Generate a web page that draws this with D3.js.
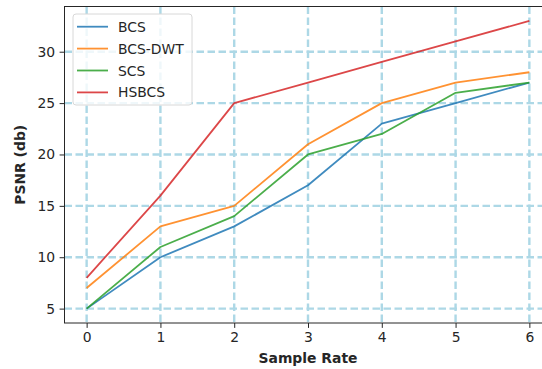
<!DOCTYPE html>
<html>
<head>
<meta charset="utf-8">
<script src="https://cdn.jsdelivr.net/npm/d3@7"></script>
<style>
  body { margin: 0; background: #fff; }
  svg { display: block; font-family: "DejaVu Sans", sans-serif; }
</style>
</head>
<body>
<svg width="542" height="369"></svg>
<script>
"use strict"

var rates = [0, 1, 2, 3, 4, 5, 6]
var bcs = [5, 10, 13, 17, 23, 25, 27]
var bcsDwt = [7, 13, 15, 21, 25, 27, 28]
var scs = [5, 11, 14, 20, 22, 26, 27]
var hsbcs = [8, 16, 25, 27, 29, 31, 33]
var yTicks = [5, 10, 15, 20, 25, 30]

var series = [
    {name: 'BCS', values: bcs, color: '#1f77b4'},
    {name: 'BCS-DWT', values: bcsDwt, color: '#ff7f0e'},
    {name: 'SCS', values: scs, color: '#2ca02c'},
    {name: 'HSBCS', values: hsbcs, color: '#d62728'}
]

var svg = d3.select("svg")
var pLeft = 64.5, pRight = 551.5, pTop = 6.5, pBottom = 323

/* matplotlib style 5% margins on both axes */
var x = d3.scaleLinear().domain([-0.3, 6.3]).range([pLeft, pRight])
var y = d3.scaleLinear().domain([3.6, 34.4]).range([pBottom, pTop])

var grid = svg.append('g')
    .attr("style", "stroke:#add8e6;stroke-width:2.4;stroke-dasharray:7.5,3.5;fill:none")
grid.selectAll('line.v').data(rates).enter().append('line')
    .attr('class', 'v')
    .attr('x1', function(d) { return x(d) })
    .attr('x2', function(d) { return x(d) })
    .attr('y1', pTop).attr('y2', pBottom)
grid.selectAll('line.h').data(yTicks).enter().append('line')
    .attr('class', 'h')
    .attr('y1', function(d) { return y(d) })
    .attr('y2', function(d) { return y(d) })
    .attr('x1', pLeft).attr('x2', pRight)

var line = d3.line()
    .x(function(d, i) { return x(rates[i]) })
    .y(function(d) { return y(d) })

svg.append('g').selectAll('path').data(series).enter().append('path')
    .attr('d', function(s) { return line(s.values) })
    .attr('fill', 'none')
    .attr('stroke', function(s) { return s.color })
    .attr('stroke-width', 1.8)
    .attr('stroke-opacity', 0.85)
    .attr('stroke-linejoin', 'round')

var xAxis = svg.append('g')
    .attr('transform', 'translate(0,' + pBottom + ')')
    .call(d3.axisBottom(x).tickValues(rates).tickSize(4.9).tickPadding(4.5).tickFormat(d3.format('d')))
var yAxis = svg.append('g')
    .attr('transform', 'translate(' + pLeft + ',0)')
    .call(d3.axisLeft(y).tickValues(yTicks).tickSize(4.9).tickPadding(4.5).tickFormat(d3.format('d')))

;[xAxis, yAxis].forEach(function(a) {
    a.select('.domain').remove()
    a.selectAll('text').attr('font-size', 13.9).attr('fill', '#262626')
        .attr('font-family', '"DejaVu Sans", sans-serif')
    a.selectAll('line').attr('stroke', '#262626').attr('stroke-width', 1)
})

/* spines */
svg.append('rect')
    .attr('x', pLeft).attr('y', pTop)
    .attr('width', pRight - pLeft).attr('height', pBottom - pTop)
    .attr('fill', 'none').attr('stroke', '#262626').attr('stroke-width', 1)

svg.append('text')
    .attr('x', (pLeft + pRight) / 2).attr('y', 363)
    .attr('text-anchor', 'middle').attr('font-weight', 'bold').attr('font-size', 13.9)
    .attr('fill', '#262626')
    .text('Sample Rate')
svg.append('text')
    .attr('transform', 'translate(25,' + ((pTop + pBottom) / 2) + ') rotate(-90)')
    .attr('text-anchor', 'middle').attr('font-weight', 'bold').attr('font-size', 13.9)
    .attr('fill', '#262626')
    .text('PSNR (db)')

/* legend */
var lg = svg.append('g').attr('transform', 'translate(73,14)')
lg.append('rect')
    .attr('width', 119).attr('height', 91).attr('rx', 3)
    .attr('fill', '#fff').attr('fill-opacity', 0.8)
    .attr('stroke', '#d8d8d8').attr('stroke-width', 1)
var item = lg.selectAll('g.item').data(series).enter().append('g')
    .attr('transform', function(s, i) { return 'translate(0,' + (12.7 + i * 21.9) + ')' })
item.append('line')
    .attr('x1', 4).attr('x2', 35)
    .attr('stroke', function(s) { return s.color })
    .attr('stroke-width', 1.8).attr('stroke-opacity', 0.85)
item.append('text')
    .attr('x', 45).attr('dy', '0.36em').attr('font-size', 13.9).attr('fill', '#262626')
    .text(function(s) { return s.name })
</script>
</body>
</html>
